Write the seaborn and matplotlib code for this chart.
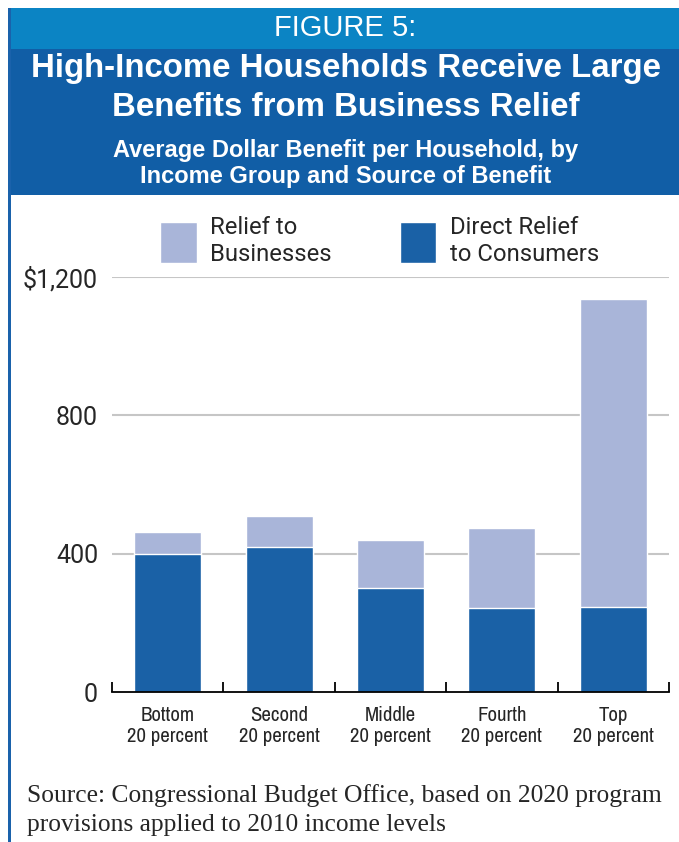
import matplotlib
matplotlib.use("Agg")
import matplotlib.pyplot as plt
from matplotlib.patches import Rectangle
from matplotlib import font_manager
import seaborn as sns
import pandas as pd

groups = ["Bottom\n20 percent", "Second\n20 percent", "Middle\n20 percent",
          "Fourth\n20 percent", "Top\n20 percent"]
direct_relief = [400, 420, 300, 243, 247]
business_relief = [63, 90, 140, 230, 890]
yticks = [0, 400, 800, 1200]
ytick_labels = ["0", "400", "800", "$1,200"]

dark_blue = "#1a61a6"
light_blue = "#a9b5d9"

sns.set_theme(style="white")

# condensed sans for the category labels, if one is installed
entries = font_manager.fontManager.ttflist
names = {f.name for f in entries}
narrow, stretch, small = "Roboto", "normal", False
named_cond = sorted(n for n in names if "Narrow" in n or "Condensed" in n)
stretch_cond = sorted({f.name for f in entries if "condensed" in str(f.stretch)
                       and "Serif" not in f.name and "Mono" not in f.name})
if "Liberation Sans Narrow" in names:
    narrow = "Liberation Sans Narrow"
elif named_cond:
    narrow = named_cond[0]
elif stretch_cond:
    narrow, stretch = stretch_cond[0], "condensed"
else:
    small = True
regular = ["Roboto", "DejaVu Sans"]
plt.rcParams["font.family"] = regular

df = pd.DataFrame({
    "group": groups,
    "direct": direct_relief,
    "total": [d + b for d, b in zip(direct_relief, business_relief)],
})

fig = plt.figure(figsize=(6.79, 8.42), dpi=100)
W, H = 679, 842

# header bands and left border
fig.add_artist(Rectangle((9 / W, 1 - 49 / H), 1, 41 / H, transform=fig.transFigure,
                         color="#0b84c4", lw=0))
fig.add_artist(Rectangle((9 / W, 1 - 195 / H), 1, 146 / H, transform=fig.transFigure,
                         color="#115ea6", lw=0))
fig.add_artist(Rectangle((8 / W, 0), 3 / W, 1 - 8 / H, transform=fig.transFigure,
                         color="#1a62ab", lw=0))

head = ["Liberation Sans", "DejaVu Sans"]
fig.text(345 / W, 1 - 28 / H, "FIGURE 5:", color="white", ha="center", va="center",
         fontsize=21, family=head)
fig.text(346 / W, 1 - 68 / H, "High-Income Households Receive Large", color="white",
         ha="center", va="center", fontsize=23.8, fontweight="bold", family=head)
fig.text(346 / W, 1 - 107 / H, "Benefits from Business Relief", color="white",
         ha="center", va="center", fontsize=23.8, fontweight="bold", family=head)
fig.text(346 / W, 1 - 150 / H, "Average Dollar Benefit per Household, by", color="white",
         ha="center", va="center", fontsize=17, fontweight="bold", family=head)
fig.text(346 / W, 1 - 177 / H, "Income Group and Source of Benefit", color="white",
         ha="center", va="center", fontsize=17, fontweight="bold", family=head)

ax = fig.add_axes([112 / W, 150 / H, 557 / W, 415 / H])
sns.barplot(data=df, x="group", y="total", color=light_blue, width=0.6,
            saturation=1, ax=ax, label="Relief to\nBusinesses")
sns.barplot(data=df, x="group", y="direct", color=dark_blue, width=0.6,
            saturation=1, ax=ax, label="Direct Relief\nto Consumers")

ax.set_ylim(0, 1200)
ax.set_xlim(-0.5, 4.5)
ax.set_yticks(yticks)
ax.set_yticklabels(ytick_labels, fontsize=18)
ax.set_xlabel("")
ax.set_ylabel("")
ax.tick_params(axis="y", length=0, pad=10)
ax.tick_params(axis="x", which="major", length=0, pad=10,
               labelsize=13 if small else 15)
ax.set_xticks([i - 0.5 for i in range(6)], minor=True)
ax.tick_params(axis="x", which="minor", bottom=True, direction="in", length=7,
               width=1.3, color="black")
for y in yticks[1:]:
    ax.axhline(y, color="#c6c6c6", lw=1.5, zorder=0)
for s in ["top", "right", "left"]:
    ax.spines[s].set_visible(False)
ax.spines["bottom"].set_color("black")
ax.spines["bottom"].set_linewidth(1.3)
for lbl in ax.get_xticklabels():
    lbl.set_family([narrow, "DejaVu Sans"])
    lbl.set_stretch(stretch)
    lbl.set_linespacing(1.12)

ax.legend(loc="upper left", bbox_to_anchor=(160 / W, 1 - 216 / H),
          bbox_transform=fig.transFigure, ncol=2, frameon=False, fontsize=17.2,
          handlelength=1.53, handleheight=2.3, handletextpad=0.58,
          columnspacing=2.83, borderpad=0, borderaxespad=0)

serif = ["Liberation Serif", "DejaVu Serif"]
fig.text(27 / W, 1 - 796 / H, "Source: Congressional Budget Office, based on 2020 program",
         ha="left", va="center", fontsize=18.4, family=serif)
fig.text(27 / W, 1 - 825 / H, "provisions applied to 2010 income levels",
         ha="left", va="center", fontsize=18.4, family=serif)

fig.savefig("out.png", dpi=100)
